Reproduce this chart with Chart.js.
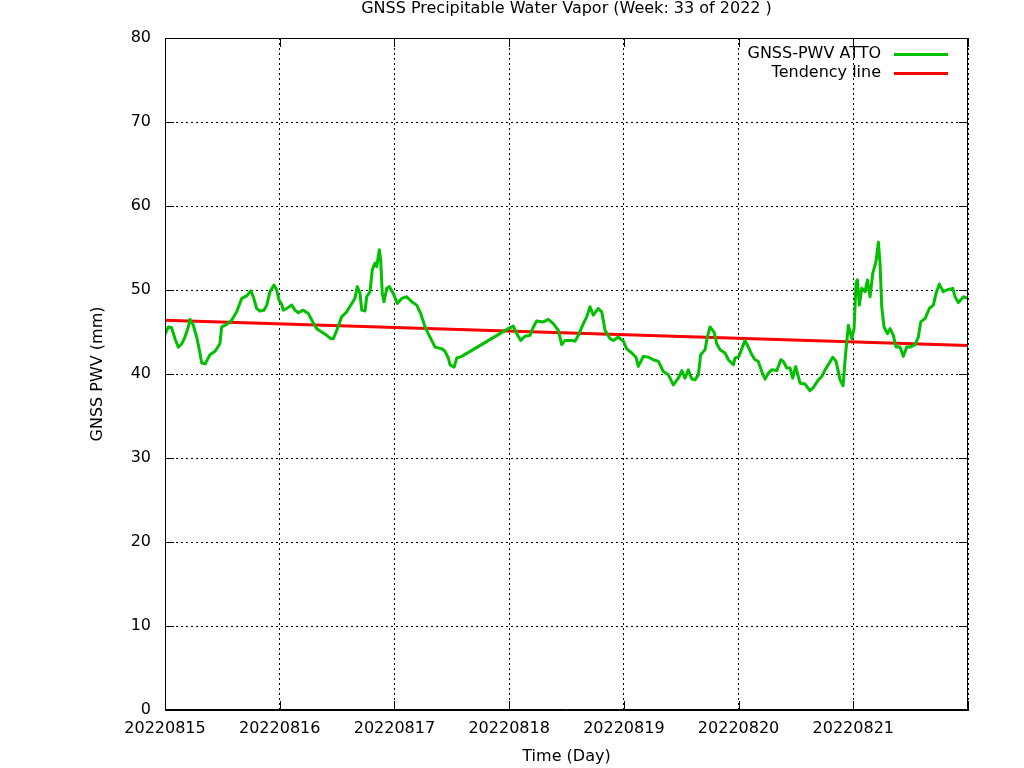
<!DOCTYPE html>
<html>
<head>
<meta charset="utf-8">
<title>GNSS PWV</title>
<script src="https://cdn.jsdelivr.net/npm/chart.js@4"></script>
<style>
  html, body { margin: 0; padding: 0; background: #fff; }
  #pwv-chart { display: block; }
</style>
</head>
<body>
<canvas id="pwv-chart" width="1024" height="768"></canvas>
<script>
/* tick labels (one per day of week 33) */
const dayLabels = ["20220815", "20220816", "20220817", "20220818", "20220819", "20220820", "20220821"]

/* time in days since 20220815 00:00, PWV in mm */
const pwvTime = [
  0.000, 0.029, 0.058, 0.087, 0.116, 0.146, 0.174, 0.203, 0.218, 0.247,
  0.276, 0.299, 0.320, 0.349, 0.392, 0.436, 0.479, 0.494, 0.538, 0.581,
  0.625, 0.669, 0.712, 0.747, 0.770, 0.799, 0.828, 0.863, 0.887, 0.915,
  0.950, 0.974, 0.994, 1.017, 1.031, 1.061, 1.105, 1.133, 1.162, 1.206,
  1.249, 1.288, 1.323, 1.366, 1.410, 1.445, 1.467, 1.497, 1.540, 1.584,
  1.628, 1.656, 1.676, 1.700, 1.715, 1.744, 1.758, 1.787, 1.807, 1.831,
  1.846, 1.868, 1.880, 1.894, 1.909, 1.933, 1.955, 1.990, 2.025, 2.064,
  2.107, 2.151, 2.194, 2.229, 2.267, 2.295, 2.325, 2.354, 2.412, 2.441,
  2.470, 2.485, 2.520, 2.543, 2.587, 2.993, 3.036, 3.066, 3.101, 3.138,
  3.182, 3.211, 3.240, 3.298, 3.342, 3.385, 3.429, 3.458, 3.487, 3.546,
  3.574, 3.603, 3.647, 3.676, 3.705, 3.734, 3.777, 3.807, 3.836, 3.880,
  3.908, 3.952, 3.996, 4.025, 4.069, 4.106, 4.126, 4.170, 4.213, 4.257,
  4.301, 4.344, 4.388, 4.431, 4.475, 4.505, 4.533, 4.562, 4.592, 4.621,
  4.649, 4.670, 4.708, 4.728, 4.751, 4.786, 4.810, 4.838, 4.882, 4.911,
  4.954, 4.969, 5.004, 5.028, 5.056, 5.085, 5.115, 5.144, 5.172, 5.202,
  5.231, 5.260, 5.289, 5.333, 5.368, 5.390, 5.420, 5.449, 5.472, 5.498,
  5.536, 5.580, 5.623, 5.652, 5.696, 5.725, 5.754, 5.791, 5.821, 5.850,
  5.885, 5.911, 5.931, 5.957, 5.987, 6.007, 6.024, 6.036, 6.053, 6.074,
  6.103, 6.123, 6.146, 6.170, 6.198, 6.219, 6.233, 6.248, 6.268, 6.297,
  6.321, 6.349, 6.373, 6.408, 6.436, 6.466, 6.495, 6.539, 6.567, 6.588,
  6.626, 6.663, 6.698, 6.722, 6.750, 6.785, 6.815, 6.867, 6.887, 6.916,
  6.960, 7.000
]
const pwvValues = [
  44.7, 45.6, 45.5, 44.2, 43.2, 43.6, 44.4, 45.6, 46.5, 45.8,
  44.4, 42.9, 41.3, 41.2, 42.3, 42.7, 43.6, 45.6, 45.9, 46.4,
  47.4, 49.0, 49.3, 49.9, 49.2, 47.8, 47.5, 47.6, 48.2, 49.8,
  50.6, 50.0, 48.8, 48.3, 47.6, 47.8, 48.2, 47.6, 47.3, 47.6,
  47.2, 46.2, 45.4, 45.0, 44.6, 44.2, 44.2, 45.2, 46.8, 47.4,
  48.4, 49.0, 50.4, 49.6, 47.6, 47.5, 49.2, 49.8, 52.4, 53.2,
  52.8, 54.8, 53.6, 49.6, 48.6, 50.2, 50.4, 49.6, 48.4, 49.0,
  49.2, 48.6, 48.2, 47.2, 45.6, 44.8, 44.0, 43.2, 43.0, 42.7,
  41.9, 41.1, 40.8, 41.9, 42.1, 45.4, 45.7, 44.8, 44.0, 44.5,
  44.6, 45.6, 46.3, 46.2, 46.5, 46.0, 45.2, 43.5, 44.0, 44.0,
  43.9, 44.6, 46.0, 46.8, 48.0, 47.0, 47.8, 47.4, 45.2, 44.2,
  44.0, 44.4, 43.9, 43.0, 42.5, 42.0, 40.9, 42.1, 42.0, 41.7,
  41.5, 40.3, 39.9, 38.7, 39.5, 40.4, 39.5, 40.5, 39.4, 39.3,
  39.9, 42.3, 42.9, 44.4, 45.6, 45.0, 43.6, 42.9, 42.5, 41.7,
  41.1, 41.9, 42.1, 43.0, 44.0, 43.2, 42.3, 41.7, 41.5, 40.3,
  39.4, 40.1, 40.5, 40.4, 41.7, 41.5, 40.7, 40.7, 39.5, 40.9,
  38.9, 38.8, 38.0, 38.4, 39.3, 39.7, 40.5, 41.3, 42.0, 41.5,
  39.3, 38.6, 42.1, 45.8, 44.2, 45.4, 50.8, 51.2, 48.2, 50.2,
  49.8, 51.2, 49.2, 52.0, 53.4, 55.7, 53.2, 48.0, 45.6, 44.8,
  45.4, 44.6, 43.2, 43.2, 42.1, 43.2, 43.2, 43.5, 44.4, 46.2,
  46.6, 47.8, 48.2, 49.6, 50.7, 49.8, 50.0, 50.2, 49.2, 48.5,
  49.2, 49.0
]

/* tendency line end points */
const trendTime = [0, 7]
const trendValues = [46.4, 43.4]

const FONT = "'DejaVu Sans', sans-serif"

// gnuplot-like frame, inward ticks, titles and key
const gnuplotDecor = {
  id: 'gnuplotDecor',
  afterDraw(chart) {
    const ctx = chart.ctx
    const a = chart.chartArea
    const xs = chart.scales.x
    const ys = chart.scales.y
    ctx.save()
    ctx.strokeStyle = '#000'
    ctx.lineWidth = 1
    ctx.setLineDash([])
    ctx.beginPath()
    ctx.rect(a.left + 0.5, a.top + 0.5, a.right - a.left - 1, a.bottom - a.top - 1)
    for (let v = 0; v <= 80; v += 10) {
      const y = Math.round(ys.getPixelForValue(v)) + 0.5
      ctx.moveTo(a.left, y); ctx.lineTo(a.left + 9, y)
      ctx.moveTo(a.right, y); ctx.lineTo(a.right - 9, y)
    }
    for (let d = 0; d <= 7; d++) {
      const x = Math.round(xs.getPixelForValue(d)) + 0.5
      ctx.moveTo(x, a.bottom); ctx.lineTo(x, a.bottom - 9)
      ctx.moveTo(x, a.top); ctx.lineTo(x, a.top + 9)
    }
    ctx.stroke()

    ctx.fillStyle = '#000'
    ctx.font = '16px ' + FONT
    ctx.textBaseline = 'middle'
    ctx.textAlign = 'center'
    ctx.fillText('GNSS Precipitable Water Vapor (Week: 33 of 2022 )', (a.left + a.right) / 2, 9)
    ctx.fillText('Time (Day)', (a.left + a.right) / 2, 757)
    ctx.save()
    ctx.translate(98, (a.top + a.bottom) / 2)
    ctx.rotate(-Math.PI / 2)
    ctx.fillText('GNSS PWV (mm)', 0, 0)
    ctx.restore()

    // key
    ctx.textAlign = 'right'
    chart.data.datasets.forEach((ds, i) => {
      const y = 54 + i * 19
      ctx.fillText(ds.label, 881, y)
      ctx.strokeStyle = ds.borderColor
      ctx.lineWidth = 3
      ctx.beginPath()
      ctx.moveTo(894, y + 0.5)
      ctx.lineTo(948, y + 0.5)
      ctx.stroke()
    })
    ctx.restore()
  }
}

new Chart(document.getElementById("pwv-chart"), {
  type: 'line',
  data: {
    datasets: [{
      label: "GNSS-PWV ATTO",
      borderColor: "#00c000",
      borderWidth: 3,
      borderJoinStyle: 'round',
      pointRadius: 0,
      tension: 0,
      data: pwvTime.map((t, i) => ({ x: t, y: pwvValues[i] }))
    }, {
      label: "Tendency line",
      borderColor: "#ff0000",
      borderWidth: 3,
      pointRadius: 0,
      data: trendTime.map((t, i) => ({ x: t, y: trendValues[i] }))
    }]
  },
  options: {
    responsive: false,
    animation: false,
    devicePixelRatio: 1,
    layout: { padding: { top: 38, right: 56, left: 0, bottom: 0 } },
    plugins: {
      legend: { display: false },
      title: { display: false },
      tooltip: { enabled: false }
    },
    scales: {
      x: {
        type: 'linear',
        min: 0,
        max: 7,
        afterFit: scale => { scale.height = 58 },
        grid: { color: '#000', lineWidth: 1, drawTicks: false },
        border: { display: true, color: '#000', dash: [2, 3] },
        ticks: {
          stepSize: 1,
          padding: 9,
          color: '#000',
          font: { family: FONT, size: 16 },
          maxRotation: 0,
          callback: v => dayLabels[v] || ''
        }
      },
      y: {
        min: 0,
        max: 80,
        afterFit: scale => { scale.width = 165 },
        grid: { color: '#000', lineWidth: 1, drawTicks: false },
        border: { display: true, color: '#000', dash: [2, 3] },
        ticks: {
          stepSize: 10,
          padding: 14,
          color: '#000',
          font: { family: FONT, size: 16 }
        }
      }
    }
  },
  plugins: [gnuplotDecor]
});
</script>
</body>
</html>
